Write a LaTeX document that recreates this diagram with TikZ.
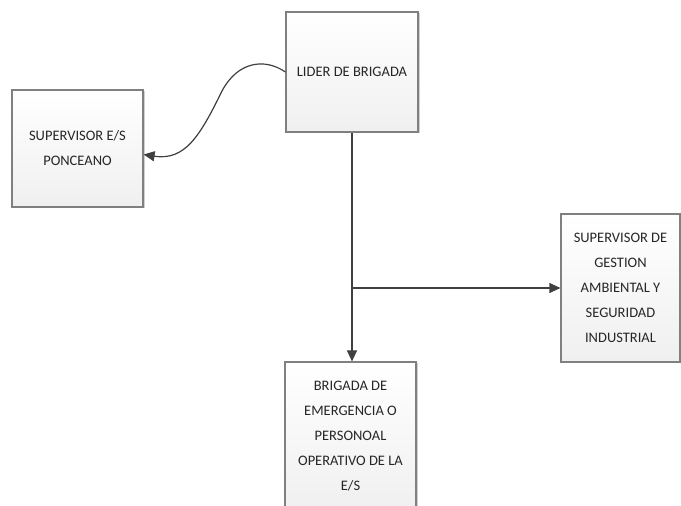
\documentclass[tikz,border=0pt]{standalone}
\usepackage{fontspec}
\setmainfont{Carlito}
\usetikzlibrary{arrows.meta,shadows}
\tikzstyle{cargo}=[draw=black!50,line width=1.2pt,shade,top color=white,bottom color=black!6,
  drop shadow={shadow xshift=1.5pt,shadow yshift=-1.5pt,fill=black!30,opacity=0.6},
  align=center,text=black!85,font=\fontsize{14.5}{25}\selectfont,inner sep=1pt]
\tikzstyle{link}=[draw=black!75,line width=1.2pt,-{Triangle[length=11pt,width=10pt]}]

\begin{document}
\begin{tikzpicture}[x=1pt,y=1pt]
\useasboundingbox (0,0) rectangle (681,506);
\clip (0,0) rectangle (681,506);
\fill[white] (0,0) rectangle (681,506);
% cargos
\node [cargo,minimum width=132pt,minimum height=120pt] (lider) at (352,434) {LIDER DE BRIGADA};
\node [cargo,minimum width=131pt,minimum height=117pt] (sup) at (77.5,357.5) {SUPERVISOR E/S\\PONCEANO};
\node [cargo,minimum width=119pt,minimum height=148pt] (gestion) at (620.5,218)
  {SUPERVISOR DE\\GESTION\\AMBIENTAL Y\\SEGURIDAD\\INDUSTRIAL};
\node [cargo,minimum width=131pt,minimum height=148pt] (brigada) at (350.5,70)
  {BRIGADA DE\\EMERGENCIA O\\PERSONOAL\\OPERATIVO DE LA\\E/S};
% conexiones
\coordinate (split) at (lider.south |- gestion.west);
\draw [link] (lider.south) -- (lider.south |- brigada.north);
\draw [link] (split) -- (gestion.west);
\draw [link] (lider.west) .. controls (265,448) and (238,445) .. (222,415)
  .. controls (200,370) and (185,345) .. ([yshift=-6pt]sup.east);
\end{tikzpicture}
\end{document}
